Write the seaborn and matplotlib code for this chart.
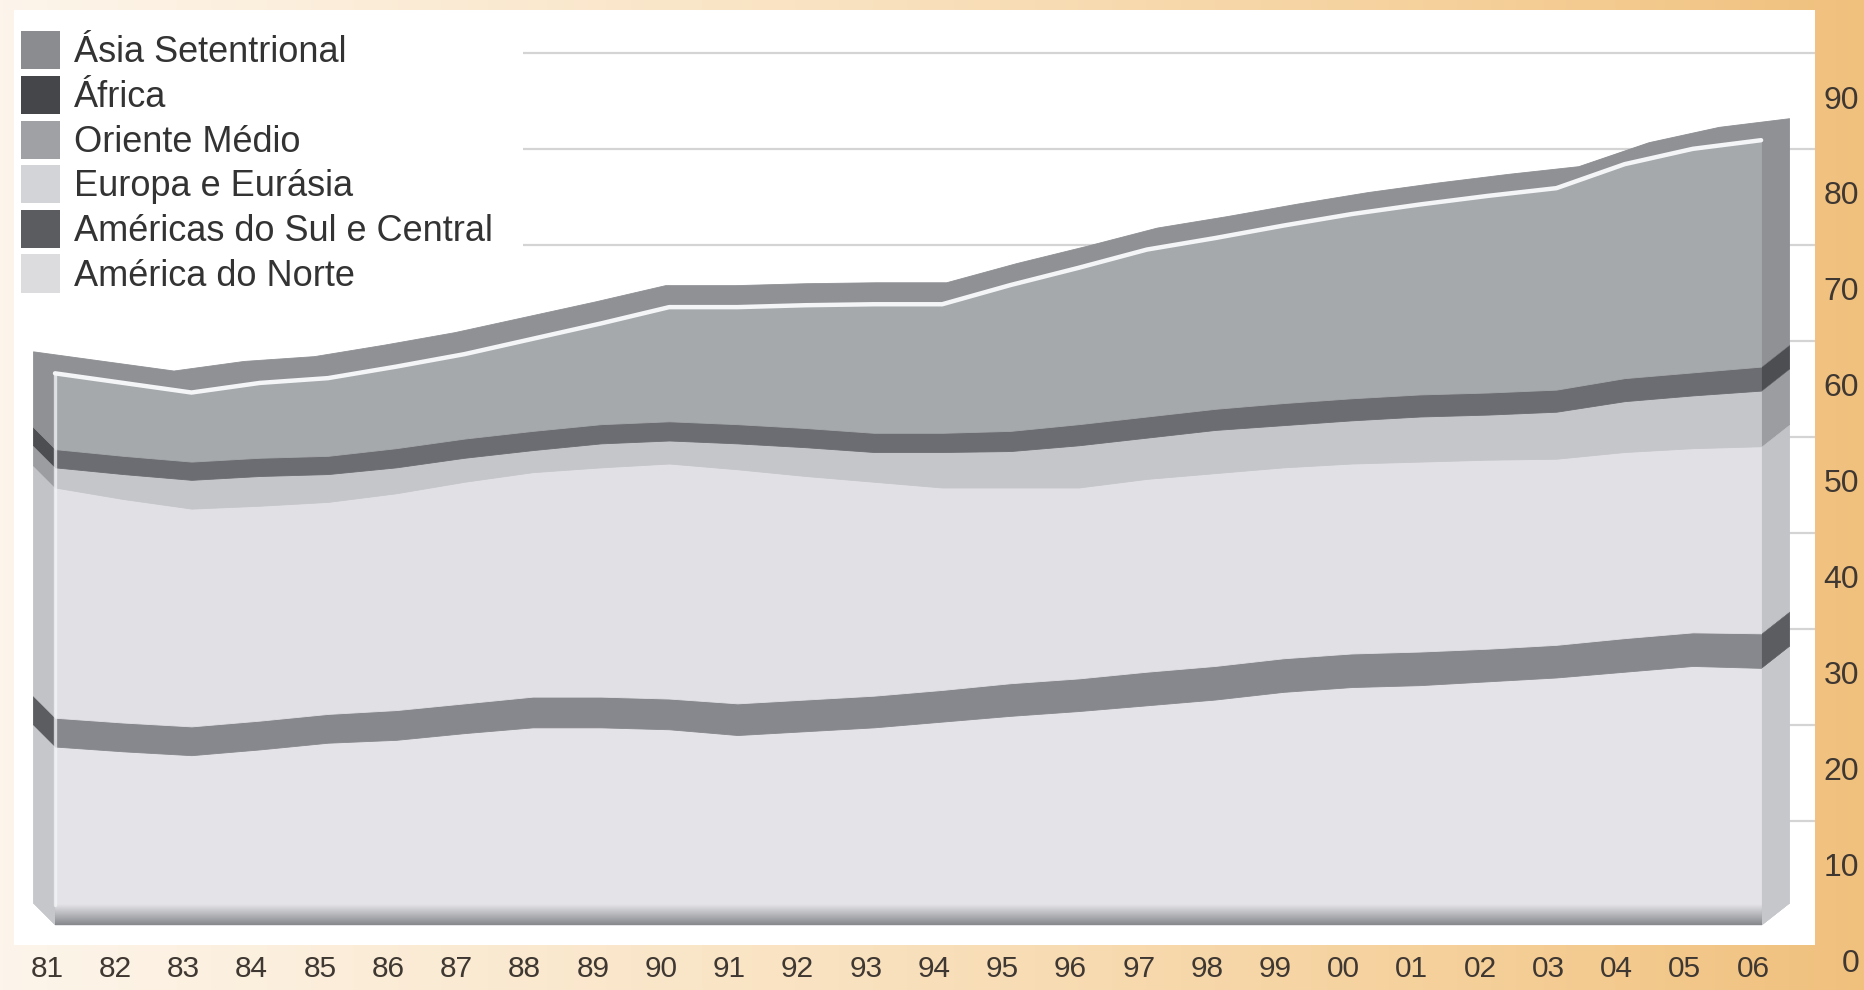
import numpy as np
import matplotlib
matplotlib.use("Agg")
import matplotlib.pyplot as plt
from matplotlib.patches import Patch
from matplotlib.transforms import Affine2D, ScaledTranslation
from matplotlib.colors import LinearSegmentedColormap
import seaborn as sns

# ---------------- data (million barrels/day) ----------------
years = ['81', '82', '83', '84', '85', '86', '87', '88', '89', '90', '91', '92', '93',
         '94', '95', '96', '97', '98', '99', '00', '01', '02', '03', '04', '05', '06']
america_norte = [18.6, 18.1, 17.7, 18.3, 19.0, 19.3, 20.0, 20.6, 20.6, 20.4, 19.8, 20.2, 20.6,
                 21.2, 21.8, 22.3, 22.9, 23.5, 24.3, 24.8, 25.0, 25.4, 25.8, 26.4, 27.0, 26.8]
americas_sul_central = [3.0, 3.0, 3.0, 3.0, 3.0, 3.1, 3.1, 3.2, 3.2, 3.2, 3.3, 3.3, 3.3,
                        3.3, 3.4, 3.4, 3.5, 3.5, 3.5, 3.5, 3.5, 3.4, 3.4, 3.5, 3.5, 3.6]
europa_eurasia = [24.0, 23.3, 22.7, 22.4, 22.1, 22.6, 23.1, 23.4, 23.9, 24.5, 24.4, 23.3, 22.3,
                  21.1, 20.4, 19.9, 20.1, 20.1, 19.9, 19.8, 19.8, 19.7, 19.4, 19.4, 19.2, 19.5]
oriente_medio = [2.1, 2.6, 3.0, 3.1, 2.9, 2.7, 2.5, 2.3, 2.5, 2.4, 2.7, 3.0, 3.1,
                 3.7, 3.8, 4.4, 4.3, 4.5, 4.4, 4.5, 4.7, 4.7, 4.9, 5.3, 5.5, 5.8]
africa = [1.9, 1.9, 1.9, 1.9, 1.9, 2.0, 2.0, 2.0, 2.0, 2.0, 2.0, 2.0, 2.0,
          2.0, 2.1, 2.2, 2.2, 2.2, 2.3, 2.3, 2.3, 2.3, 2.3, 2.4, 2.4, 2.5]
asia_setentrional = [7.9, 7.6, 7.2, 7.8, 8.1, 8.5, 8.8, 9.6, 10.5, 11.9, 12.2, 12.8, 13.4,
                     13.4, 15.2, 16.3, 17.4, 17.8, 18.5, 19.2, 19.8, 20.5, 21.0, 22.3, 23.3, 23.6]

series_names = ['América do Norte', 'Américas do Sul e Central', 'Europa e Eurásia',
                'Oriente Médio', 'África', 'Ásia Setentrional']
y_ticks = [0, 10, 20, 30, 40, 50, 60, 70, 80, 90]

# ---------------- styling ----------------
front_colors = ['#e4e4e8', '#87888d', '#e1e1e5', '#c5c6ca', '#6c6d72', '#a6a9ac']
back_colors = ['#c6c7cb', '#5c5d61', '#c2c3c7', '#9c9da1', '#4d4e52', '#8f9195']
legend_colors = ['#dcdcdf', '#5b5c60', '#d3d4d8', '#a0a1a5', '#45464a', '#8a8c90']
text_color = '#333333'
tick_color = '#3f3832'

sns.set_theme(style='white')
plt.rcParams['font.family'] = ['Liberation Sans', 'DejaVu Sans']

W, H, DPI = 1864, 990, 100
fig = plt.figure(figsize=(W / DPI, H / DPI), dpi=DPI)

# warm gradient background
bg = fig.add_axes([0, 0, 1, 1], zorder=-10)
gx = np.linspace(0, 1, 600)
r = np.interp(gx, [0, 0.45, 0.8, 1], [253, 249, 245, 240])
g = np.interp(gx, [0, 0.45, 0.8, 1], [245, 226, 207, 192])
b = np.interp(gx, [0, 0.45, 0.8, 1], [235, 192, 152, 125])
img = np.stack([r, g, b], axis=-1)[None, :, :] / 255.0
bg.imshow(img, aspect='auto', extent=[0, 1, 0, 1])
bg.set_axis_off()

# white panel = plot axes
ax_l, ax_r, ax_t, ax_b = 14, 1815, 10, 945
ax = fig.add_axes([ax_l / W, 1 - ax_b / H, (ax_r - ax_l) / W, (ax_b - ax_t) / H])
ax.set_facecolor('white')
for s in ax.spines.values():
    s.set_visible(False)

x = np.arange(len(years))
stack = np.vstack([america_norte, americas_sul_central, europa_eurasia,
                   oriente_medio, africa, asia_setentrional])
cum = np.cumsum(stack, axis=0)
lower = np.vstack([np.zeros(len(x)), cum[:-1]])

XLIM = (-0.601, 25.79)
YLIM = (-2.085, 95.37)
ax.set_xlim(*XLIM)
ax.set_ylim(*YLIM)

# back-wall gridlines
grid_tr = ax.get_yaxis_transform() + ScaledTranslation(0, 8.4 / DPI, fig.dpi_scale_trans)
for v in y_ticks[1:]:
    ax.plot([0.2826, 1.0], [v, v], color='#d4d4d4', lw=1.6, transform=grid_tr,
            zorder=1, scalex=False, scaley=False, solid_capstyle='butt')

# 3D extrusion (depth) drawn from back to front
cx, scale_back, dy = 805.8, 1.0293, 22.0
N = 22
for k in range(N, 0, -1):
    t = k / N
    tr = Affine2D().translate(-cx, 0).scale(1 + (scale_back - 1) * t, 1).translate(cx, dy * t)
    for i in range(len(series_names)):
        ax.fill_between(x, lower[i], cum[i], facecolor=back_colors[i], edgecolor=back_colors[i],
                        lw=0.6, transform=ax.transData + tr, zorder=2)

# front faces
for i in range(len(series_names)):
    ax.fill_between(x, lower[i], cum[i], facecolor=front_colors[i], edgecolor=front_colors[i],
                    lw=0.6, zorder=3, label=series_names[i])

# floor shading at bottom of the front face
shade = LinearSegmentedColormap.from_list('shade', [(0.33, 0.34, 0.36, 0.0), (0.33, 0.34, 0.36, 0.65)])
ax.imshow(np.linspace(0, 1, 64)[:, None], cmap=shade, aspect='auto', origin='upper',
          extent=[x[0], x[-1], 0, 2.1], zorder=4, interpolation='bilinear')
ax.set_xlim(*XLIM)
ax.set_ylim(*YLIM)

# highlights along the top and the left front edges
sns.lineplot(x=x, y=cum[-1], color='#f3f5f7', lw=3.2, ax=ax, zorder=5, legend=False)
ax.plot([x[0], x[0]], [2.1, cum[-1][0]], color='#f3f5f7', lw=2.4, alpha=0.75, zorder=5,
        solid_capstyle='round')
ax.set_xlabel('')
ax.set_ylabel('')

# ticks
ax.set_xticks(x)
ax.set_xticklabels(years)
ax.tick_params(axis='x', length=0, pad=7, labelsize=21.5, labelcolor=tick_color)
xoff = ScaledTranslation(-8 / DPI, 0, fig.dpi_scale_trans)
for lab in ax.get_xticklabels():
    lab.set_transform(lab.get_transform() + xoff)

ax.yaxis.tick_right()
ax.set_yticks(y_ticks)
ax.set_yticklabels([str(v) for v in y_ticks])
ax.tick_params(axis='y', length=0, pad=31.7, labelsize=23, labelcolor=tick_color)
yoff = ScaledTranslation(0, -35.5 / DPI, fig.dpi_scale_trans)
for lab in ax.get_yticklabels():
    lab.set_horizontalalignment('right')
    lab.set_transform(lab.get_transform() + yoff)
ax.grid(False)

# legend
handles = [Patch(facecolor=legend_colors[i], edgecolor='none') for i in range(5, -1, -1)]
labels = [series_names[i] for i in range(5, -1, -1)]
leg = fig.legend(handles, labels, loc='upper left', bbox_to_anchor=(14 / W, 1 - 24 / H),
                 bbox_transform=fig.transFigure, frameon=True, fancybox=False,
                 fontsize=26, handlelength=1.08, handleheight=1.25, handletextpad=0.38,
                 labelspacing=0.15, borderpad=0.2, borderaxespad=0)
leg.get_frame().set_facecolor('white')
leg.get_frame().set_edgecolor('none')
leg.get_frame().set_alpha(1)
for t in leg.get_texts():
    t.set_color(text_color)

fig.savefig('out.png', dpi=DPI)
